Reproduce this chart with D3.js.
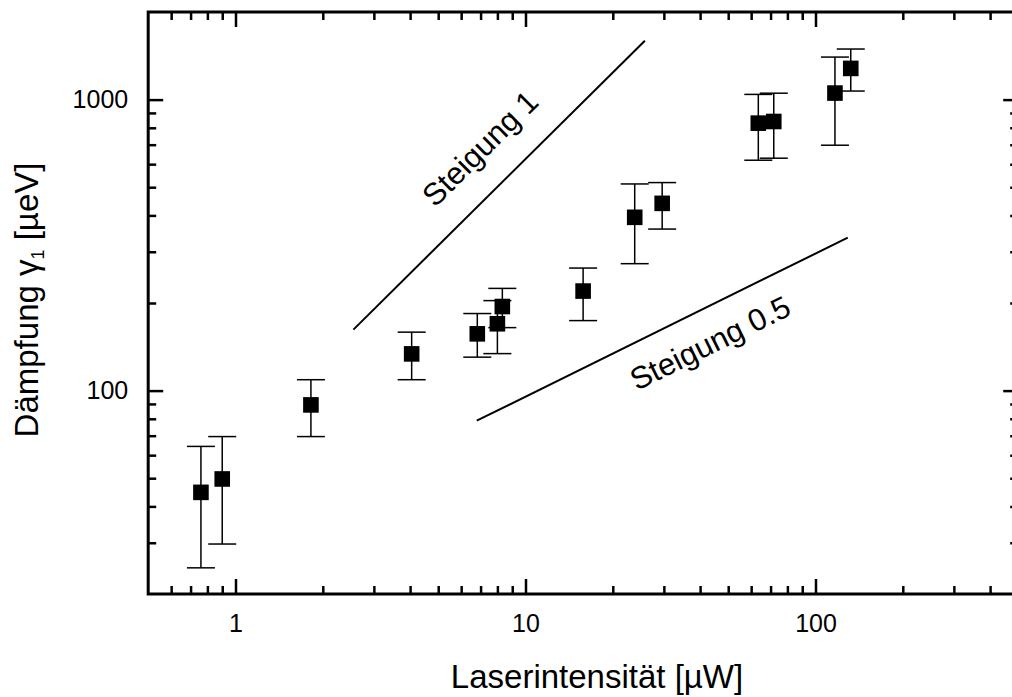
<!DOCTYPE html>
<html><head><meta charset="utf-8">
<script src="https://cdn.jsdelivr.net/npm/d3@7"></script>
<style>
body{margin:0;background:#fff}
svg text{font-family:"Liberation Sans",Arial,sans-serif;fill:#000}
</style>
</head><body>
<svg id="c" width="1012" height="697"></svg>
<script>
// ---- data ----
const intensity = [0.76, 0.90, 1.82, 4.05, 6.82, 8.0, 8.32, 15.8, 23.8, 29.6, 63.5, 71.8, 116.7, 132.3];
const damping   = [44.7, 49.7, 89.3, 133.7, 156.7, 169.7, 194.5, 219.8, 394, 440, 830, 841, 1053, 1280];
const errLow    = [24.6, 29.7, 69.5, 109, 130.3, 134, 164.6, 174, 273, 359, 619, 629, 697, 1070];
const errHigh   = [64.3, 69.5, 109, 158.8, 184, 203.8, 224.5, 263.7, 513, 518.6, 1042, 1052, 1400, 1492];

const xMajorTicks = [1, 10, 100];
const xMinorTicks = [0.6,0.7,0.8,0.9, 2,3,4,5,6,7,8,9, 20,30,40,50,60,70,80,90, 200,300,400];
const yMajorTicks = [100, 1000];
const yMinorTicks = [30,40,50,60,70,80,90, 200,300,400,500,600,700,800,900];

const slopeLabels = ["Steigung 1", "Steigung 0.5"];
const slopeX0 = [2.55, 6.79];
const slopeY0 = [162, 78.8];
const slopeX1 = [25.8, 129.2];
const slopeY1 = [1594, 335.4];
const labelX  = [6.97, 43.3];
const labelY  = [680, 146];

const xTitle = "Laserintensität [µW]";

// ---- layout ----
const svg = d3.select("#c");
const L = 148.2, R = 1018.2, T = 12, B = 594;
const x = d3.scaleLog().domain([0.5, 500]).range([L, R]);
const y = d3.scaleLog().domain([20, 2000]).range([B, T]);

function styleAxis(g, fs){
  g.select(".domain").remove();
  g.selectAll(".tick line").attr("stroke","#000").attr("stroke-width",2.5);
  g.selectAll(".tick text").attr("font-size",fs).attr("font-family","Liberation Sans, Arial, sans-serif").attr("fill","#000");
}
const fmt = d3.format("d");

// bottom
svg.append("g").attr("transform",`translate(0,${B})`)
  .call(d3.axisBottom(x).tickValues(xMajorTicks).tickSize(-15).tickPadding(20).tickFormat(fmt))
  .call(g=>styleAxis(g,25));
svg.append("g").attr("transform",`translate(0,${B})`)
  .call(d3.axisBottom(x).tickValues(xMinorTicks).tickSize(-8).tickFormat(""))
  .call(g=>styleAxis(g,25));
// top
svg.append("g").attr("transform",`translate(0,${T})`)
  .call(d3.axisTop(x).tickValues(xMajorTicks).tickSize(-15).tickFormat(""))
  .call(g=>styleAxis(g,25));
svg.append("g").attr("transform",`translate(0,${T})`)
  .call(d3.axisTop(x).tickValues(xMinorTicks).tickSize(-8).tickFormat(""))
  .call(g=>styleAxis(g,25));
// left
svg.append("g").attr("transform",`translate(${L},0)`)
  .call(d3.axisLeft(y).tickValues(yMajorTicks).tickSize(-15).tickPadding(20).tickFormat(fmt))
  .call(g=>styleAxis(g,25));
svg.append("g").attr("transform",`translate(${L},0)`)
  .call(d3.axisLeft(y).tickValues(yMinorTicks).tickSize(-8).tickFormat(""))
  .call(g=>styleAxis(g,25));
// right
svg.append("g").attr("transform",`translate(${R},0)`)
  .call(d3.axisRight(y).tickValues(yMajorTicks).tickSize(-15).tickFormat(""))
  .call(g=>styleAxis(g,25));
svg.append("g").attr("transform",`translate(${R},0)`)
  .call(d3.axisRight(y).tickValues(yMinorTicks).tickSize(-8).tickFormat(""))
  .call(g=>styleAxis(g,25));

// frame
svg.append("rect").attr("x",L).attr("y",T).attr("width",R-L).attr("height",B-T)
  .attr("fill","none").attr("stroke","#000").attr("stroke-width",3);

// slope guide lines
const slopes = slopeLabels.map((s,i)=>({s, x0:slopeX0[i], y0:slopeY0[i], x1:slopeX1[i], y1:slopeY1[i], lx:labelX[i], ly:labelY[i]}));
svg.selectAll("line.slope").data(slopes).join("line").attr("class","slope")
  .attr("x1",d=>x(d.x0)).attr("y1",d=>y(d.y0)).attr("x2",d=>x(d.x1)).attr("y2",d=>y(d.y1))
  .attr("stroke","#000").attr("stroke-width",2);
svg.selectAll("text.slope").data(slopes).join("text").attr("class","slope")
  .attr("transform",d=>{
    const a = Math.atan2(y(d.y1)-y(d.y0), x(d.x1)-x(d.x0))*180/Math.PI;
    return `translate(${x(d.lx)},${y(d.ly)}) rotate(${a})`;
  })
  .attr("text-anchor","middle").attr("dy","0.35em").attr("font-size",31)
  .text(d=>d.s);

// data
const pts = intensity.map((v,i)=>({x:v, y:damping[i], lo:errLow[i], hi:errHigh[i]}));
const eb = svg.append("g").attr("stroke","#000").attr("stroke-width",1.5);
eb.selectAll("line.v").data(pts).join("line").attr("class","v")
  .attr("x1",d=>x(d.x)).attr("x2",d=>x(d.x)).attr("y1",d=>y(d.lo)).attr("y2",d=>y(d.hi));
eb.selectAll("line.ch").data(pts).join("line").attr("class","ch")
  .attr("x1",d=>x(d.x)-14).attr("x2",d=>x(d.x)+14).attr("y1",d=>y(d.hi)).attr("y2",d=>y(d.hi));
eb.selectAll("line.cl").data(pts).join("line").attr("class","cl")
  .attr("x1",d=>x(d.x)-14).attr("x2",d=>x(d.x)+14).attr("y1",d=>y(d.lo)).attr("y2",d=>y(d.lo));
svg.selectAll("rect.pt").data(pts).join("rect").attr("class","pt")
  .attr("x",d=>x(d.x)-7.8).attr("y",d=>y(d.y)-7.8).attr("width",15.6).attr("height",15.6).attr("fill","#000");

// axis titles
svg.append("text").attr("x",597).attr("y",688).attr("text-anchor","middle").attr("font-size",33).text(xTitle);
const yt = svg.append("text").attr("transform","translate(38,300) rotate(-90)").attr("text-anchor","middle").attr("font-size",33);
yt.append("tspan").text("Dämpfung γ");
yt.append("tspan").attr("font-size",18).attr("dy",6).text("1");
yt.append("tspan").attr("dy",-6).text(" [µeV]");
</script>
</body></html>
